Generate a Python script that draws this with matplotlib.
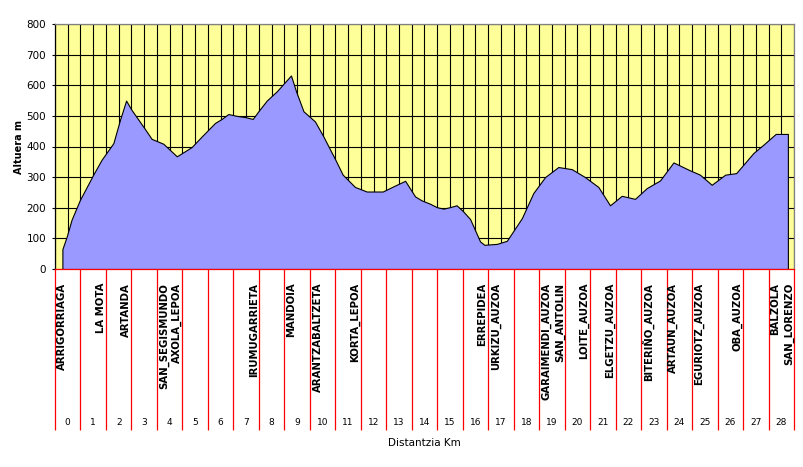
import matplotlib
matplotlib.use("Agg")
import matplotlib.pyplot as plt
from matplotlib.ticker import MultipleLocator

# elevation profile
dist_km = [0.29, 0.46, 0.65, 0.98, 1.5, 1.83, 2.29, 2.55, 2.79, 3.0, 3.53, 3.79, 4.25, 4.78,
           5.36, 5.76, 6.28, 6.54, 6.8, 7.13, 7.46, 7.76, 7.98, 8.31, 8.7, 9.26, 9.46, 9.75,
           10.2, 10.53, 11.0, 11.29, 11.77, 12.23, 12.86, 13.28, 13.74, 14.13, 14.39, 14.72,
           14.98, 15.24, 15.5, 15.76, 16.02, 16.29, 16.68, 16.85, 17.34, 17.73, 18.32, 18.77,
           19.23, 19.75, 20.28, 20.8, 21.32, 21.78, 22.24, 22.76, 23.22, 23.74, 24.27, 24.92,
           25.31, 25.77, 26.3, 26.73, 27.41, 27.8, 28.28, 28.76]
alt_m = [65, 106, 161, 226, 308, 357, 411, 487, 550, 520, 457, 425, 409, 368,
         398, 433, 477, 490, 506, 500, 496, 490, 515, 550, 580, 632, 580, 515,
         482, 433, 357, 308, 268, 253, 253, 270, 288, 237, 224, 213,
         202, 197, 202, 208, 188, 163, 90, 79, 82, 92, 166, 248,
         300, 333, 326, 300, 268, 208, 239, 229, 264, 289, 348, 322,
         308, 275, 308, 313, 379, 406, 441, 441]

place_names = ["ARRIGORRIAGA", "LA MOTA", "ARTANDA", "SAN_SEGISMUNDO\nAXOLA_LEPOA",
               "IRUMUGARRIETA", "MANDOIA", "ARANTZABALTZETA", "KORTA_LEPOA",
               "ERREPIDEA\nURKIZU_AUZOA", "GARAIMENDI_AUZOA\nSAN_ANTOLIN", "LOITE_AUZOA",
               "ELGETZU_AUZOA", "BITERIÑO_AUZOA", "ARTAUN_AUZOA", "EGURIOTZ_AUZOA",
               "OBA_AUZOA", "BALZOLA\nSAN_LORENZO"]
place_km = [0.28, 1.8, 2.77, 4.53, 7.8, 9.25, 10.3, 11.79, 17.04, 19.54, 20.77,
            21.77, 23.25, 24.25, 25.27, 26.77, 28.53]

km_labels = [str(k) for k in range(29)]
y_ticks = list(range(0, 801, 100))

W, H = 804, 467
fig = plt.figure(figsize=(W / 100, H / 100), dpi=100)
fig.patch.set_facecolor("white")

# main profile panel
ax = fig.add_axes([55 / W, 1 - 269 / H, 739 / W, 245 / H])
ax.set_facecolor("#FFFF99")
ax.fill_between(dist_km, alt_m, 0, facecolor="#9999FF", edgecolor="black", linewidth=0.8, zorder=2)
ax.set_xlim(0, 29)
ax.set_ylim(0, 800)
ax.set_yticks(y_ticks)
ax.xaxis.set_major_locator(MultipleLocator(0.5))
ax.grid(True, color="black", linewidth=0.8)
ax.set_axisbelow(True)
ax.tick_params(axis="x", length=0, labelbottom=False)
ax.tick_params(axis="y", length=2.5, width=0.8, pad=4, labelsize=7.5)
ax.spines["left"].set_color("black")
ax.spines["top"].set_color("#808080")
ax.spines["right"].set_color("#808080")
ax.spines["bottom"].set_color("red")
for s in ax.spines.values():
    s.set_linewidth(0.9)
    s.set_zorder(3)

# category strip below the profile
ax2 = fig.add_axes([55 / W, 1 - 430 / H, 739 / W, 161 / H])
ax2.set_xlim(0, 29)
ax2.set_ylim(0, 1)
ax2.axis("off")
ax2.vlines(range(30), 0, 1, color="red", linewidth=0.9, clip_on=False)
for k, lab in enumerate(km_labels):
    ax2.text(k + 0.5, 0.045, lab, ha="center", va="center", fontsize=6.5,
             family=["Liberation Sans Narrow", "DejaVu Sans"])
for x, name in zip(place_km, place_names):
    ax2.text(x, 0.915, name, rotation=90, ha="center", va="top", multialignment="right",
             fontsize=7.3, fontweight="bold", linespacing=1.4)

fig.text(19 / W, 1 - 147 / H, "Altuera m", rotation=90, ha="center", va="center",
         fontsize=7, fontweight="bold")
fig.text(424 / W, 1 - 443 / H, "Distantzia Km", ha="center", va="center", fontsize=7.5,
         family=["Liberation Sans Narrow", "DejaVu Sans"])

plt.savefig("out.png", dpi=100)
